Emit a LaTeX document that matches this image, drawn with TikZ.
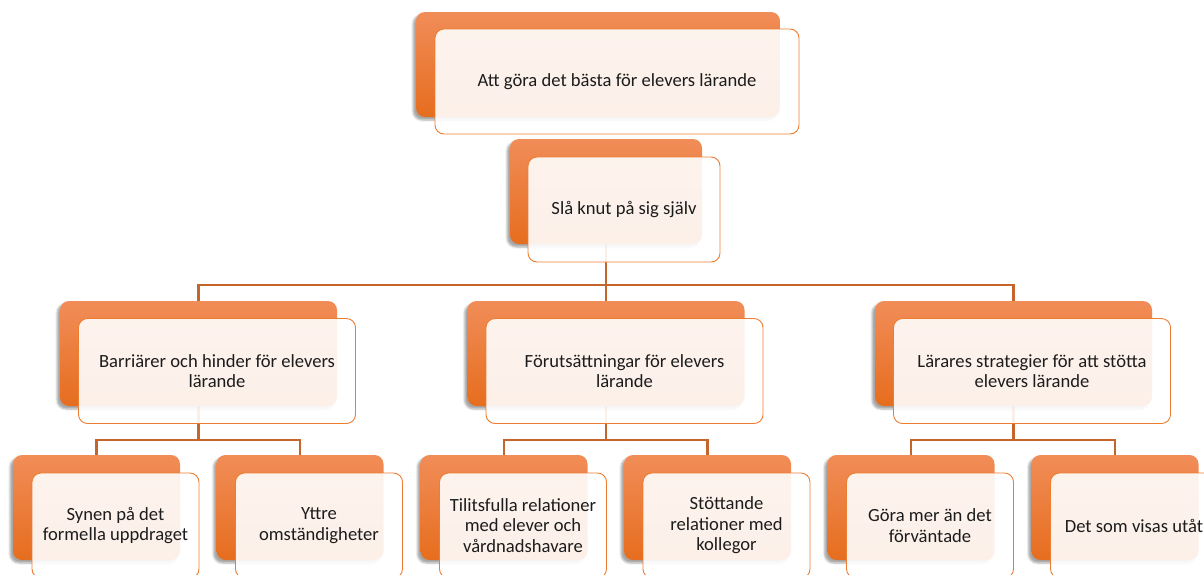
\documentclass[tikz,border=0pt]{standalone}
\usepackage{fontspec}
\setmainfont{Carlito}
\usetikzlibrary{positioning,shadows.blur,backgrounds}
\definecolor{peel}{HTML}{F18D58}
\definecolor{pulp}{HTML}{E66D1E}
\definecolor{rind}{HTML}{ED7D31}
\definecolor{twig}{HTML}{C4662B}
\definecolor{ink}{HTML}{1C1C1C}

\begin{document}
\begin{tikzpicture}[x=1pt, y=-1pt,
    back/.style={rounded corners=9pt, top color=peel, bottom color=pulp,
      blur shadow={shadow xshift=-3pt, shadow yshift=-3pt, shadow opacity=35},
      minimum height=105pt, inner sep=0pt, outer sep=0pt},
    card/.style={draw=rind, line width=0.9pt, rounded corners=9pt, fill=white,
      fill opacity=0.9, text opacity=1, minimum height=105pt, inner sep=0pt,
      outer sep=0pt, align=center, text=ink, font=\fontsize{18.6}{20.5}\selectfont},
    link/.style={draw=twig, line width=2.2pt}]
    \useasboundingbox (0,0) rectangle (1204,574);
    \clip (0,0) rectangle (1204,574);
    % top rows
    \node[back, minimum width=364pt] (top) at (598,64.5) {};
    \node[card, minimum width=364pt] (top-f) at ([shift={(19,17)}]top.center) {Att göra det bästa för elevers lärande};
    \node[back, minimum width=192pt] (knut) at (606,191.5) {};
    \node[card, minimum width=192pt] (knut-f) at ([shift={(18,18)}]knut.center) {Slå knut på sig själv};
    % second level
    \node[back, minimum width=277pt] (barr) at (198.5,353.5) {};
    \node[card, minimum width=277pt] (barr-f) at ([shift={(18.5,17.5)}]barr.center) {Barriärer och hinder för elevers\\lärande};
    \node[back, minimum width=277pt] (forut) at (606,353.5) {};
    \node[card, minimum width=277pt] (forut-f) at ([shift={(18.5,17.5)}]forut.center) {Förutsättningar för elevers\\lärande};
    \node[back, minimum width=277pt] (strat) at (1013.5,353.5) {};
    \node[card, minimum width=277pt] (strat-f) at ([shift={(18.5,17.5)}]strat.center) {Lärares strategier för att stötta\\elevers lärande};
    % leaves
    \node[back, minimum width=167pt] (synen) at (96.5,507.5) {};
    \node[card, minimum width=167pt] (synen-f) at ([shift={(19,18)}]synen.center) {Synen på det\\formella uppdraget};
    \node[back, minimum width=167pt] (yttre) at (300,507.5) {};
    \node[card, minimum width=167pt] (yttre-f) at ([shift={(19,18)}]yttre.center) {Yttre\\omständigheter};
    \node[back, minimum width=167pt] (tillit) at (504,507.5) {};
    \node[card, minimum width=167pt] (tillit-f) at ([shift={(19,18)}]tillit.center) {Tilitsfulla relationer\\med elever och\\vårdnadshavare};
    \node[back, minimum width=167pt] (stott) at (707.5,507.5) {};
    \node[card, minimum width=167pt] (stott-f) at ([shift={(19,18)}]stott.center) {Stöttande\\relationer med\\kollegor};
    \node[back, minimum width=167pt] (gora) at (911,507.5) {};
    \node[card, minimum width=167pt] (gora-f) at ([shift={(19,18)}]gora.center) {Göra mer än det\\förväntade};
    \node[back, minimum width=167pt] (visas) at (1115,507.5) {};
    \node[card, minimum width=167pt] (visas-f) at ([shift={(19,18)}]visas.center) {Det som visas utåt};
    % connectors
    \begin{pgfonlayer}{background}
      \draw[link] (knut.south) -- ++(0,41) -| (barr.north);
      \draw[link] (knut.south) -- ++(0,41) -| (forut.north);
      \draw[link] (knut.south) -- ++(0,41) -| (strat.north);
      \draw[link] (barr.south) -- ++(0,34) -| (synen.north);
      \draw[link] (barr.south) -- ++(0,34) -| (yttre.north);
      \draw[link] (forut.south) -- ++(0,34) -| (tillit.north);
      \draw[link] (forut.south) -- ++(0,34) -| (stott.north);
      \draw[link] (strat.south) -- ++(0,34) -| (gora.north);
      \draw[link] (strat.south) -- ++(0,34) -| (visas.north);
    \end{pgfonlayer}
  \end{tikzpicture}
\end{document}
